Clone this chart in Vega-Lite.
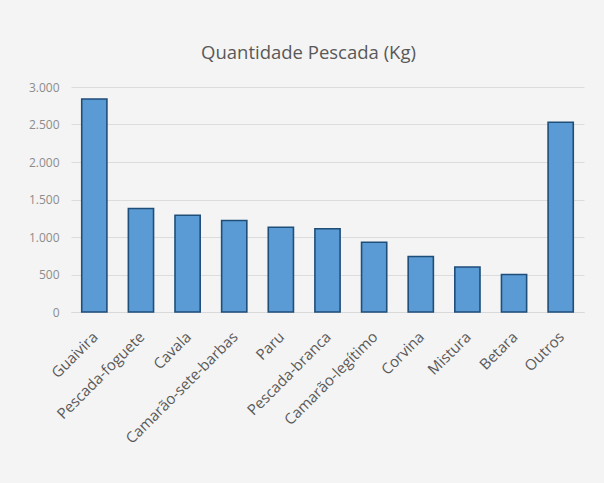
{
  "$schema": "https://vega.github.io/schema/vega-lite/v6.json",
  "autosize": "none",
  "width": 513,
  "height": 225,
  "padding": {"left": 71, "top": 87, "right": 20, "bottom": 171},
  "background": "#f4f4f4",
  "title": {"text": "Quantidade Pescada (Kg)", "font": "Open Sans", "fontSize": 18.5, "fontWeight": "normal", "color": "#595959", "anchor": "middle", "offset": 19, "dx": -19},
  "data": {"values": [
    {"especie": "Guaivira", "kg": 2840},
    {"especie": "Pescada-foguete", "kg": 1380},
    {"especie": "Cavala", "kg": 1290},
    {"especie": "Camarão-sete-barbas", "kg": 1220},
    {"especie": "Paru", "kg": 1130},
    {"especie": "Pescada-branca", "kg": 1110},
    {"especie": "Camarão-legítimo", "kg": 930},
    {"especie": "Corvina", "kg": 740},
    {"especie": "Mistura", "kg": 600},
    {"especie": "Betara", "kg": 500},
    {"especie": "Outros", "kg": 2530}
  ]},
  "mark": {"type": "bar", "fill": "#5b9bd5", "stroke": "#1f4e79", "strokeWidth": 1.6},
  "encoding": {
    "x": {"field": "especie", "type": "nominal", "sort": null, "title": null,
      "scale": {"paddingInner": 0.46, "paddingOuter": 0.23},
      "axis": {"labelAngle": -45, "labelFont": "Open Sans", "labelFontSize": 15, "labelColor": "#595959", "ticks": false, "domain": true, "domainColor": "#d9d9d9", "labelPadding": 17, "labelOffset": -4, "grid": false, "labelOverlap": false}},
    "y": {"field": "kg", "type": "quantitative", "title": null,
      "scale": {"domain": [0, 3000]},
      "axis": {"values": [0, 500, 1000, 1500, 2000, 2500, 3000], "labelExpr": "replace(format(datum.value, ','), ',', '.')", "labelFont": "Open Sans", "labelFontSize": 12, "labelColor": "#8c8c8c", "ticks": false, "domain": false, "gridColor": "#dcdcdc", "labelPadding": 12}}
  },
  "config": {"view": {"stroke": null}}
}
